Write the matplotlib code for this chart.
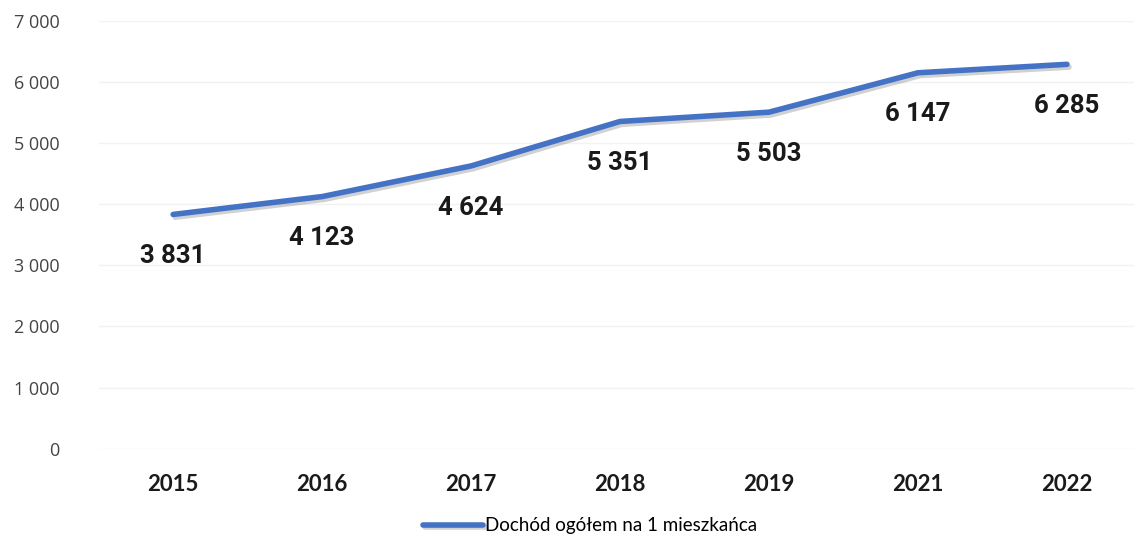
import matplotlib
matplotlib.use('Agg')
import matplotlib.pyplot as plt
import matplotlib.patheffects as pe

years = ['2015', '2016', '2017', '2018', '2019', '2021', '2022']
dochod = [3831, 4123, 4624, 5351, 5503, 6147, 6285]
y_ticks = [0, 1000, 2000, 3000, 4000, 5000, 6000, 7000]
series_name = 'Dochód ogółem na 1 mieszkańca'


def fmt(v):
    return f'{v:,}'.replace(',', ' ')


fig = plt.figure(figsize=(11.34, 5.42), dpi=100)
ax = fig.add_axes([0.087, 0.172, 0.913, 0.79])

x = list(range(len(years)))
line, = ax.plot(x, dochod, color='#4472C4', lw=4, solid_capstyle='round',
                label=series_name,
                path_effects=[pe.SimpleLineShadow(offset=(1.5, -2), alpha=0.18),
                              pe.Normal()])

for xi, v in zip(x, dochod):
    ax.annotate(fmt(v), (xi, v), xytext=(0, -30), textcoords='offset points',
                ha='center', va='center', fontsize=18.5, fontweight='bold',
                family='Roboto', color='#1a1a1a')

ax.set_xlim(-0.5, 6.45)
ax.set_ylim(0, 7000)
ax.set_xticks(x)
ax.set_xticklabels(years, fontsize=16, fontweight='bold', family='Lato', color='#1a1a1a')
ax.set_yticks(y_ticks)
ax.set_yticklabels([fmt(t) for t in y_ticks], fontsize=13, family='Open Sans', color='#444444')
ax.tick_params(length=0)
ax.tick_params(axis='x', pad=18)
ax.tick_params(axis='y', pad=28)
ax.grid(axis='y', color='#f2f2f2', lw=1)
for s in ax.spines.values():
    s.set_visible(False)

leg = fig.legend(handles=[line], loc='center', bbox_to_anchor=(0.52, 0.03),
                 frameon=False, handlelength=3.2, handletextpad=0.1,
                 prop={'family': 'Lato', 'size': 13.5})

fig.savefig('out.png', dpi=100)
